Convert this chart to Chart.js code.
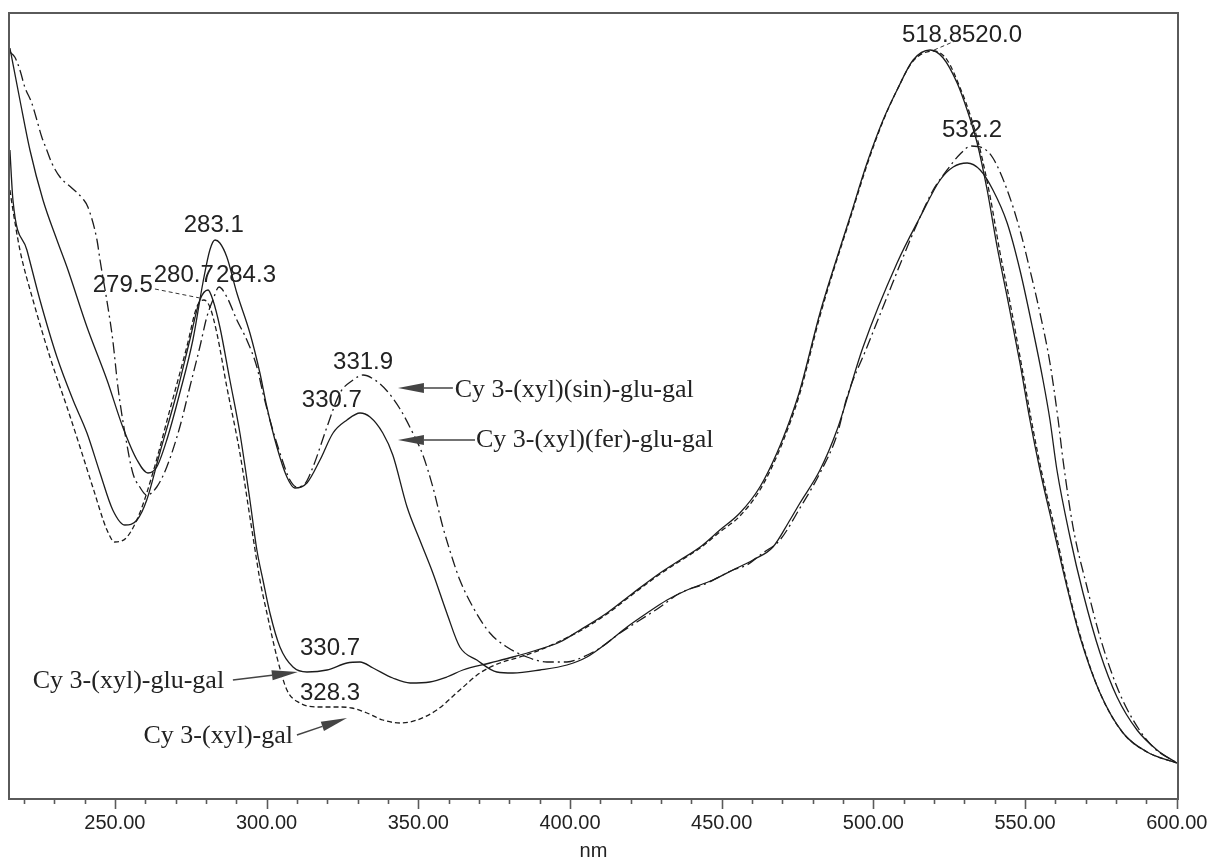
<!DOCTYPE html>
<html>
<head>
<meta charset="utf-8">
<script src="https://cdn.jsdelivr.net/npm/chart.js@4.4.1/dist/chart.umd.min.js"></script>
<style>
  html, body { margin: 0; padding: 0; background: #ffffff; }
  #wrap { width: 1213px; height: 861px; position: relative; }
</style>
</head>
<body>
<div id="wrap"><canvas id="c"></canvas></div>
<script>
// ---------- data (wavelength nm, relative absorbance) ----------
const sinNm  = [215.4,217.0,218.7,220.3,222.6,224.0,225.9,227.3,229.2,231.9,235.8,239.5,241.1,244.1,245.1,247.7,249.3,251.0,253.3,255.9,258.2,260.5,263.8,267.1,271.4,274.7,278.0,280.3,282.3,284.3,286.9,290.2,293.5,296.8,298.8,301.1,304.4,307.7,310.0,312.6,315.3,319.9,324.2,328.5,331.8,335.7,339.7,344.0,348.2,351.5,354.8,358.1,361.4,363.7,368.0,373.6,379.2,385.8,392.4,399.0,404.3,409.9,416.5,423.1,429.7,436.3,445.2,453.7,458.3,463.6,469.2,475.8,482.4,488.0,491.3,497.9,504.5,509.8,515.4,519.7,524.3,528.6,532.2,536.1,539.4,544.1,548.3,551.6,554.9,558.2,560.9,562.5,565.8,570.4,574.7,580.3,585.6,592.2,600.0];
const sinAbs = [0.747,0.742,0.729,0.712,0.696,0.682,0.662,0.651,0.636,0.622,0.611,0.600,0.592,0.559,0.539,0.492,0.459,0.412,0.366,0.326,0.312,0.304,0.312,0.332,0.372,0.412,0.452,0.482,0.499,0.512,0.502,0.479,0.459,0.432,0.406,0.379,0.346,0.319,0.312,0.315,0.332,0.372,0.406,0.419,0.424,0.419,0.408,0.390,0.366,0.344,0.312,0.272,0.239,0.219,0.192,0.166,0.152,0.142,0.137,0.137,0.142,0.151,0.166,0.179,0.192,0.206,0.216,0.229,0.234,0.246,0.259,0.291,0.326,0.364,0.402,0.452,0.502,0.542,0.582,0.609,0.629,0.645,0.653,0.651,0.641,0.609,0.569,0.529,0.486,0.436,0.379,0.339,0.272,0.212,0.162,0.112,0.079,0.052,0.036];

const ferNm  = [215.4,218.7,222.0,226.3,230.9,234.2,240.8,247.4,252.6,257.3,260.9,263.8,267.1,271.4,275.7,279.0,281.3,283.0,284.6,286.9,290.2,294.5,297.8,300.1,303.4,306.7,309.3,313.3,317.6,321.9,326.5,330.8,334.1,338.3,341.6,346.3,350.5,354.8,359.4,363.7,369.3,375.9,381.2,390.1,399.0,405.6,412.2,418.8,425.4,432.0,438.6,447.1,453.7,460.3,466.9,472.5,475.8,482.4,488.0,496.6,507.8,515.4,522.0,526.3,530.9,535.2,539.4,544.1,548.3,552.6,555.9,558.2,560.5,564.8,569.1,574.7,580.3,586.9,593.5,600.0];
const ferAbs = [0.751,0.699,0.649,0.599,0.559,0.532,0.472,0.419,0.372,0.339,0.326,0.332,0.359,0.406,0.459,0.516,0.549,0.559,0.556,0.542,0.506,0.466,0.426,0.392,0.352,0.322,0.311,0.316,0.339,0.366,0.379,0.386,0.382,0.366,0.344,0.292,0.259,0.226,0.186,0.152,0.139,0.127,0.126,0.129,0.134,0.142,0.156,0.172,0.186,0.199,0.209,0.219,0.229,0.239,0.252,0.279,0.296,0.329,0.369,0.452,0.536,0.582,0.619,0.632,0.636,0.629,0.609,0.576,0.529,0.469,0.419,0.379,0.329,0.262,0.206,0.146,0.102,0.069,0.049,0.036];

const gluNm  = [215.4,216.4,221.0,225.3,230.9,236.2,240.8,245.1,249.3,253.3,257.3,260.5,264.8,270.4,274.7,278.0,280.7,282.3,284.6,287.9,291.2,294.5,296.8,298.8,301.1,304.4,308.7,313.3,319.9,326.5,330.8,335.1,341.6,347.3,353.8,359.4,364.7,373.6,381.2,389.1,396.7,403.3,412.2,420.8,429.7,436.3,442.9,449.4,456.0,462.6,468.2,472.5,475.8,482.4,486.7,492.3,497.9,503.2,507.8,513.1,518.7,523.0,527.6,530.9,534.2,537.5,540.8,544.1,548.3,551.6,554.9,559.2,563.8,568.1,574.7,582.3,590.2,600.0];
const gluAbs = [0.649,0.599,0.549,0.499,0.442,0.399,0.366,0.326,0.289,0.274,0.279,0.299,0.346,0.406,0.459,0.499,0.509,0.499,0.472,0.419,0.366,0.299,0.249,0.219,0.186,0.152,0.132,0.127,0.129,0.136,0.137,0.131,0.121,0.116,0.117,0.122,0.129,0.136,0.142,0.149,0.157,0.169,0.186,0.206,0.226,0.239,0.252,0.269,0.286,0.312,0.346,0.379,0.409,0.486,0.529,0.582,0.636,0.679,0.709,0.739,0.749,0.741,0.716,0.689,0.656,0.609,0.552,0.502,0.436,0.379,0.329,0.272,0.212,0.162,0.106,0.066,0.047,0.036];

const galNm  = [215.4,216.4,218.7,223.0,228.6,234.2,238.5,242.7,247.4,250.0,254.0,258.2,262.5,268.1,273.7,277.0,279.3,281.3,283.6,286.9,291.2,294.5,296.2,297.8,300.1,303.4,306.7,311.0,317.6,324.2,328.1,333.1,338.3,344.0,349.6,356.1,363.7,370.3,376.9,383.5,390.1,396.7,403.3,412.2,420.8,429.7,436.3,442.9,449.4,456.0,462.6,468.2,472.5,475.8,482.4,486.7,492.3,497.9,503.2,507.8,513.1,520.0,524.3,528.6,531.9,535.2,538.5,541.7,545.0,549.0,552.3,555.6,559.9,564.2,568.4,574.7,582.3,590.2,600.0];
const galAbs = [0.609,0.589,0.549,0.499,0.442,0.392,0.352,0.312,0.269,0.257,0.262,0.286,0.326,0.389,0.452,0.492,0.499,0.492,0.466,0.412,0.346,0.282,0.249,0.219,0.186,0.142,0.109,0.096,0.092,0.092,0.091,0.086,0.079,0.076,0.079,0.089,0.109,0.126,0.136,0.142,0.149,0.158,0.168,0.185,0.205,0.225,0.238,0.251,0.267,0.283,0.309,0.343,0.376,0.406,0.483,0.527,0.580,0.634,0.678,0.709,0.738,0.748,0.739,0.711,0.684,0.649,0.602,0.547,0.497,0.431,0.375,0.325,0.269,0.210,0.161,0.106,0.066,0.047,0.036];

const xTickValues = [220,230,240,250,260,270,280,290,300,310,320,330,340,350,360,370,380,390,400,410,420,430,440,450,460,470,480,490,500,510,520,530,540,550,560,570,580,590,600];
const xMajorStep = 50;
const xTitle = 'nm';

// ---------- annotations (anchored in data units) ----------
const peakLabels = [
  { text: '283.1', nm: 282.6, abs: 0.567, align: 'center' },
  { text: '279.5', nm: 252.6, abs: 0.507, align: 'center' },
  { text: '280.7', nm: 272.7, abs: 0.517, align: 'center' },
  { text: '284.3', nm: 293.2, abs: 0.517, align: 'center' },
  { text: '331.9', nm: 331.8, abs: 0.430, align: 'center' },
  { text: '330.7', nm: 321.5, abs: 0.392, align: 'center' },
  { text: '330.7', nm: 320.9, abs: 0.144, align: 'center' },
  { text: '328.3', nm: 320.9, abs: 0.099, align: 'center' },
  { text: '518.8', nm: 529.2, abs: 0.757, align: 'right' },
  { text: '520.0', nm: 529.2, abs: 0.757, align: 'left' },
  { text: '532.2', nm: 532.5, abs: 0.662, align: 'center' }
];
const leaders = [
  { from: [263.2, 0.510], to: [278.0, 0.501] },
  { from: [520.0, 0.749], to: [526.9, 0.758] }
];
const arrows = [
  { text: 'Cy 3-(xyl)(sin)-glu-gal', tail: [361.4, 0.411], tip: [343.3, 0.411], textAt: [362.0, 0.402], align: 'left' },
  { text: 'Cy 3-(xyl)(fer)-glu-gal', tail: [368.7, 0.359], tip: [343.3, 0.359], textAt: [369.0, 0.352], align: 'left' },
  { text: 'Cy 3-(xyl)-glu-gal',      tail: [288.9, 0.119], tip: [310.3, 0.127], textAt: [286.0, 0.111], align: 'right' },
  { text: 'Cy 3-(xyl)-gal',          tail: [310.0, 0.064], tip: [326.5, 0.081], textAt: [308.7, 0.056], align: 'right' }
];

const toXY = (xs, ys) => xs.map((x, i) => ({ x: x, y: ys[i] }));

const ink = '#1c1c1c';
const frameColor = '#5a5a5a';

const decorPlugin = {
  id: 'decor',
  afterDraw(chart) {
    const ctx = chart.ctx, a = chart.chartArea;
    const xs = chart.scales.x, ys = chart.scales.y;
    const px = v => xs.getPixelForValue(v), py = v => ys.getPixelForValue(v);
    ctx.save();
    // frame
    ctx.strokeStyle = frameColor;
    ctx.lineWidth = 2;
    ctx.strokeRect(a.left, a.top, a.right - a.left, a.bottom - a.top);
    // ticks
    ctx.lineWidth = 1.6;
    xTickValues.forEach(v => {
      const x = Math.round(px(v)) + 0.5;
      const len = (v % xMajorStep === 0) ? 10 : 5;
      ctx.beginPath();
      ctx.moveTo(x, a.bottom);
      ctx.lineTo(x, a.bottom + len);
      ctx.stroke();
    });
    // peak labels
    ctx.fillStyle = '#222';
    ctx.font = '24px "Liberation Sans", Arial, sans-serif';
    ctx.textBaseline = 'alphabetic';
    peakLabels.forEach(p => {
      ctx.textAlign = p.align;
      ctx.fillText(p.text, px(p.nm), py(p.abs));
    });
    // leader lines
    ctx.strokeStyle = '#333';
    ctx.lineWidth = 1;
    ctx.setLineDash([4, 3]);
    leaders.forEach(l => {
      ctx.beginPath();
      ctx.moveTo(px(l.from[0]), py(l.from[1]));
      ctx.lineTo(px(l.to[0]), py(l.to[1]));
      ctx.stroke();
    });
    ctx.setLineDash([]);
    // arrows with labels
    ctx.font = '26px "Liberation Serif", "Times New Roman", serif';
    arrows.forEach(ar => {
      const x0 = px(ar.tail[0]), y0 = py(ar.tail[1]);
      const x1 = px(ar.tip[0]), y1 = py(ar.tip[1]);
      const ang = Math.atan2(y1 - y0, x1 - x0);
      const L = 26, W = 5;
      const bx = x1 - L * Math.cos(ang), by = y1 - L * Math.sin(ang);
      ctx.strokeStyle = '#444';
      ctx.lineWidth = 1.5;
      ctx.beginPath();
      ctx.moveTo(x0, y0);
      ctx.lineTo(bx, by);
      ctx.stroke();
      ctx.fillStyle = '#444';
      ctx.beginPath();
      ctx.moveTo(x1, y1);
      ctx.lineTo(bx + W * Math.sin(ang), by - W * Math.cos(ang));
      ctx.lineTo(bx - W * Math.sin(ang), by + W * Math.cos(ang));
      ctx.closePath();
      ctx.fill();
      ctx.fillStyle = '#222';
      ctx.textAlign = ar.align;
      ctx.fillText(ar.text, px(ar.textAt[0]), py(ar.textAt[1]));
    });
    ctx.restore();
  }
};

const lineDefaults = {
  showLine: true,
  pointRadius: 0,
  borderColor: ink,
  borderWidth: 1.3,
  fill: false,
  cubicInterpolationMode: 'monotone'
};

new Chart(document.getElementById('c'), {
  type: 'scatter',
  data: {
    datasets: [
      Object.assign({ label: 'Cy 3-(xyl)(sin)-glu-gal', data: toXY(sinNm, sinAbs), borderDash: [11, 4, 2, 4] }, lineDefaults),
      Object.assign({ label: 'Cy 3-(xyl)(fer)-glu-gal', data: toXY(ferNm, ferAbs) }, lineDefaults),
      Object.assign({ label: 'Cy 3-(xyl)-glu-gal', data: toXY(gluNm, gluAbs) }, lineDefaults),
      Object.assign({ label: 'Cy 3-(xyl)-gal', data: toXY(galNm, galAbs), borderDash: [5, 3] }, lineDefaults)
    ]
  },
  options: {
    responsive: true,
    maintainAspectRatio: false,
    animation: false,
    layout: { padding: { left: 9, right: 35, top: 13, bottom: 0 } },
    plugins: { legend: { display: false }, tooltip: { enabled: false } },
    scales: {
      x: {
        type: 'linear',
        min: 215.1,
        max: 600.4,
        afterBuildTicks: s => { s.ticks = xTickValues.map(v => ({ value: v })); },
        afterFit: s => { s.height = 62; s.paddingLeft = 0; s.paddingRight = 0; },
        grid: { display: false },
        border: { display: false },
        ticks: {
          autoSkip: false,
          maxRotation: 0,
          minRotation: 0,
          padding: 6,
          color: '#222',
          font: { family: '"Liberation Sans", Arial, sans-serif', size: 20, lineHeight: 1 },
          callback: v => (v % xMajorStep === 0) ? Number(v).toFixed(2) : ''
        },
        title: {
          display: true,
          text: xTitle,
          color: '#222',
          font: { family: '"Liberation Sans", Arial, sans-serif', size: 20, lineHeight: 1 },
          padding: { top: 9, bottom: 0 }
        }
      },
      y: { display: false, min: 0, max: 0.786 }
    }
  },
  plugins: [decorPlugin]
});
</script>
</body>
</html>
